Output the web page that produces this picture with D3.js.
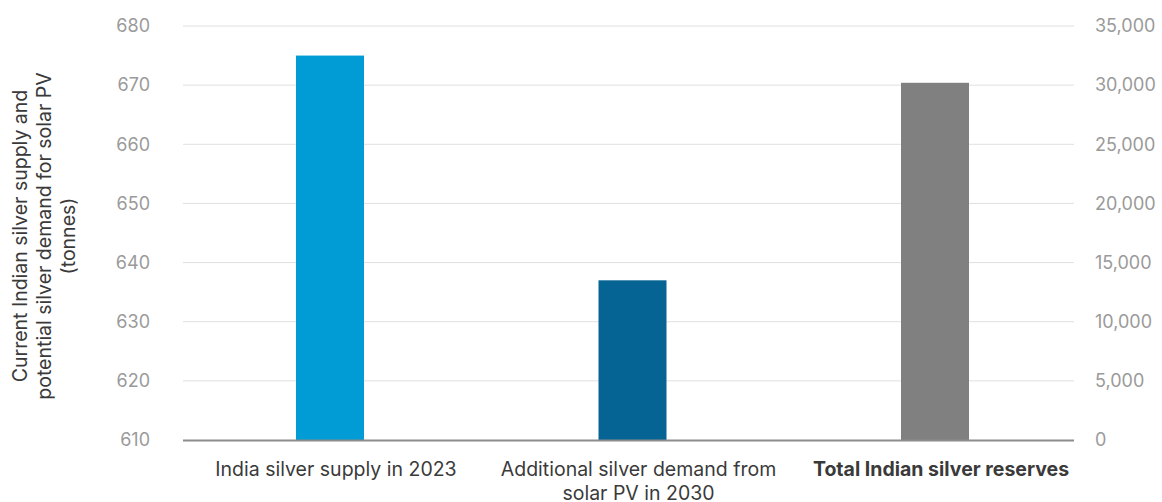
<!DOCTYPE html>
<html>
<head>
<meta charset="utf-8">
<script src="https://cdn.jsdelivr.net/npm/d3@7"></script>
<style>
  html, body { margin: 0; padding: 0; background: #fff; }
  svg { display: block; font-family: Inter, "Open Sans", sans-serif; }
</style>
</head>
<body>
<svg id="chart" width="1162" height="502"></svg>
<script>
// Categories and values (tonnes)
const categories = [
  "India silver supply in 2023",
  "Additional silver demand from solar PV in 2030",
  "Total Indian silver reserves"
];
const categoryLines = [
  ["India silver supply in 2023"],
  ["Additional silver demand from", "solar PV in 2030"],
  ["Total Indian silver reserves"]
];
// Series on the left axis
const primaryValues = [675, 637, null];
// Series on the right axis
const secondaryValues = [null, null, 30200];
const barColors = ["#019bd5", "#066494", "#808080"];

const leftTicks = [610, 620, 630, 640, 650, 660, 670, 680];
const rightTicks = [0, 5000, 10000, 15000, 20000, 25000, 30000, 35000];
const axisTitle = ["Current Indian silver supply and", "potential silver demand for solar PV", "(tonnes)"];

const svg = d3.select("#chart");
const plot = { left: 183, right: 1074, top: 26, bottom: 440 };

const x = d3.scalePoint().domain(categories).range([330, 935]);
const yLeft = d3.scaleLinear().domain([610, 680]).range([plot.bottom, plot.top]);
const yRight = d3.scaleLinear().domain([0, 35000]).range([plot.bottom, plot.top]);
const barWidth = 68;

// Gridlines
svg.append("g")
  .selectAll("line")
  .data(leftTicks.slice(1))
  .join("line")
  .attr("x1", plot.left).attr("x2", plot.right)
  .attr("y1", d => yLeft(d)).attr("y2", d => yLeft(d))
  .attr("stroke", "#e0e0e0").attr("stroke-width", 1);

// Bars
const bars = categories.map((c, i) => {
  const useRight = primaryValues[i] == null;
  const v = useRight ? secondaryValues[i] : primaryValues[i];
  const s = useRight ? yRight : yLeft;
  return { c, v, s, color: barColors[i] };
});
svg.append("g")
  .selectAll("rect")
  .data(bars)
  .join("rect")
  .attr("x", d => x(d.c) - barWidth / 2)
  .attr("width", barWidth)
  .attr("y", d => d.s(d.v))
  .attr("height", d => plot.bottom - d.s(d.v))
  .attr("fill", d => d.color);

// Baseline
svg.append("line")
  .attr("x1", plot.left).attr("x2", plot.right)
  .attr("y1", plot.bottom + 0.5).attr("y2", plot.bottom + 0.5)
  .attr("stroke", "#8c8c8c").attr("stroke-width", 2);

// Left axis
const leftAxis = d3.axisLeft(yLeft).tickValues(leftTicks).tickSize(0).tickPadding(0);
const gL = svg.append("g").attr("transform", "translate(150,0)").call(leftAxis);
gL.select(".domain").remove();
gL.selectAll("text")
  .attr("font-family", "Inter, sans-serif")
  .attr("font-size", 18)
  .attr("fill", "#9a9a9a");

// Right axis
const rightAxis = d3.axisRight(yRight).tickValues(rightTicks).tickSize(0).tickPadding(0)
  .tickFormat(d3.format(","));
const gR = svg.append("g").attr("transform", "translate(1095,0)").call(rightAxis);
gR.select(".domain").remove();
gR.selectAll("text")
  .attr("font-family", "Inter, sans-serif")
  .attr("font-size", 18)
  .attr("fill", "#9a9a9a");

// Category labels
const labels = svg.append("g")
  .selectAll("text")
  .data(categories.map((c, i) => ({ c, lines: categoryLines[i], bold: i === 2 })))
  .join("text")
  .attr("x", d => x(d.c) + 6)
  .attr("y", 476)
  .attr("text-anchor", "middle")
  .attr("font-size", 19.5)
  .attr("font-weight", d => d.bold ? 700 : 400)
  .attr("fill", "#3a3a3a");
labels.selectAll("tspan")
  .data(d => d.lines)
  .join("tspan")
  .attr("x", function() { return d3.select(this.parentNode).attr("x"); })
  .attr("dy", (d, i) => i === 0 ? 0 : 24)
  .text(d => d);

// Axis title
const title = svg.append("text")
  .attr("transform", "translate(27,236) rotate(-90)")
  .attr("text-anchor", "middle")
  .attr("font-size", 19.5)
  .attr("fill", "#3a3a3a");
title.selectAll("tspan")
  .data(axisTitle)
  .join("tspan")
  .attr("x", 0)
  .attr("dy", (d, i) => i === 0 ? 0 : 24)
  .text(d => d);
</script>
</body>
</html>
